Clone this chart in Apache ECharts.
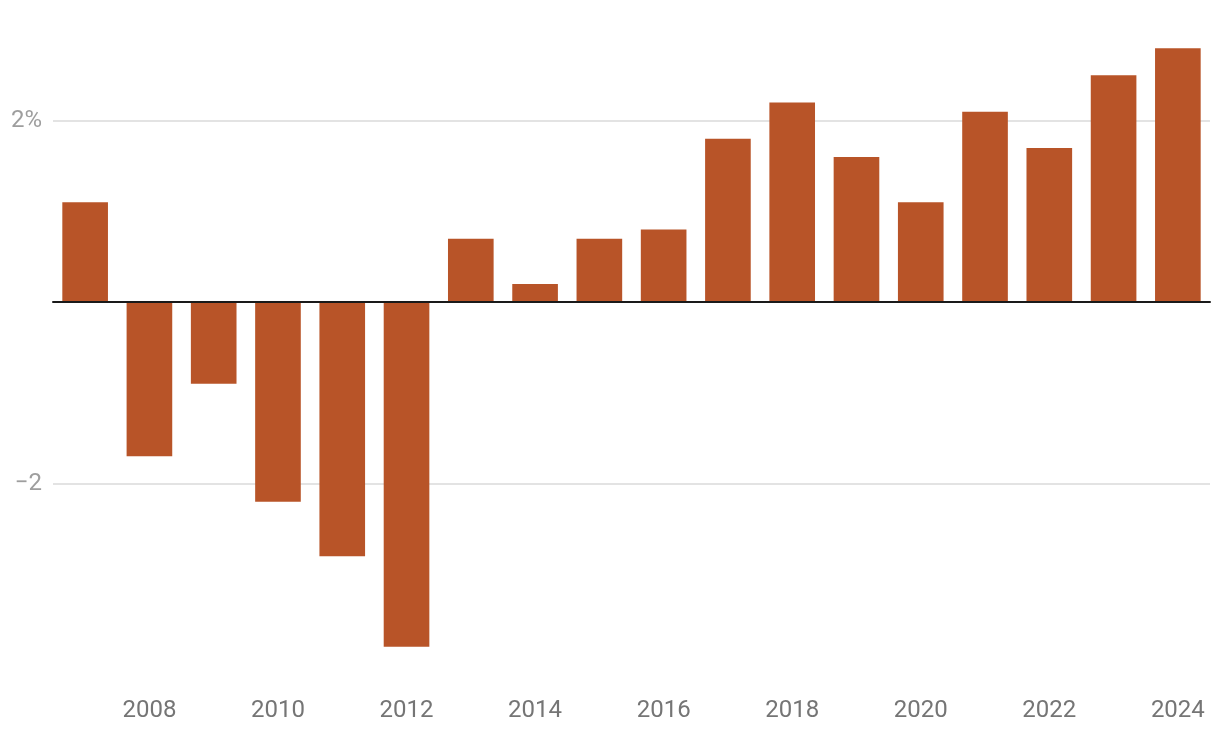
<!DOCTYPE html>
<html>
<head>
<meta charset="utf-8">
<script src="https://cdn.jsdelivr.net/npm/echarts@6/dist/echarts.min.js"></script>
<style>
html,body{margin:0;padding:0;background:#fff;}
#chart{width:1220px;height:742px;}
</style>
</head>
<body>
<div id="chart"></div>
<script>
const years = ['2007','2008','2009','2010','2011','2012','2013','2014','2015','2016','2017','2018','2019','2020','2021','2022','2023','2024'];
const values = [1.1, -1.7, -0.9, -2.2, -2.8, -3.8, 0.7, 0.2, 0.7, 0.8, 1.8, 2.2, 1.6, 1.1, 2.1, 1.7, 2.5, 2.8];
const yTickLabels = {'2': '2%', '-2': '\u22122'};

const chart = echarts.init(document.getElementById('chart'));
chart.setOption({
  animation: false,
  backgroundColor: '#ffffff',
  textStyle: { fontFamily: 'Roboto' },
  grid: { left: 53, right: 10, top: 30, bottom: 77, containLabel: false },
  xAxis: [
    {
      type: 'category',
      data: years,
      position: 'bottom',
      z: 10,
      axisLine: { onZero: true, lineStyle: { color: '#1a1a1a', width: 2 } },
      axisTick: { show: false },
      axisLabel: { show: false },
      splitLine: { show: false }
    },
    {
      type: 'category',
      data: years,
      position: 'bottom',
      axisLine: { show: false, onZero: false },
      axisTick: { show: false },
      axisLabel: {
        color: '#757575',
        fontSize: 24,
        fontFamily: 'Roboto',
        margin: 34,
        interval: function (i) { return i % 2 === 1; }
      },
      splitLine: { show: false }
    }
  ],
  yAxis: {
    type: 'value',
    min: -4,
    max: 3,
    interval: 2,
    axisLine: { show: false },
    axisTick: { show: false },
    axisLabel: {
      color: '#9e9e9e',
      fontSize: 24,
      fontFamily: 'Roboto',
      margin: 11,
      formatter: function (v) { return yTickLabels[String(v)] || ''; }
    },
    splitLine: {
      show: true,
      showMinLine: false,
      showMaxLine: false,
      lineStyle: { color: '#e3e3e3', width: 2 }
    }
  },
  series: [
    {
      type: 'bar',
      xAxisIndex: 0,
      data: values,
      barCategoryGap: '29%',
      itemStyle: { color: '#b85428' }
    }
  ]
});
</script>
</body>
</html>
